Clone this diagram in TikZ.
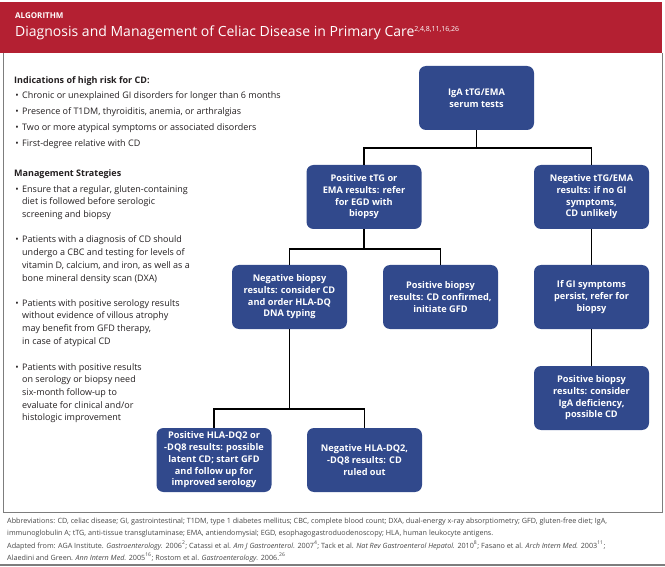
\documentclass[tikz,border=0pt]{standalone}
\usepackage{fontspec}
\setmainfont{Open Sans}
\definecolor{algred}{RGB}{180,32,50}
\definecolor{algblue}{RGB}{49,73,140}
\definecolor{framegray}{RGB}{125,125,125}
\definecolor{bodyink}{RGB}{35,31,32}
\definecolor{noteink}{RGB}{70,70,70}
\begin{document}
\begin{tikzpicture}[x=1pt,y=-1pt,
    stepbox/.style={fill=algblue, rounded corners=7pt, text=white, align=center,
      font=\bfseries\fontsize{9.2}{11.7}\selectfont,
      minimum width=115pt, minimum height=64pt, inner sep=1pt},
    link/.style={line width=1.6pt},
    bodytext/.style={anchor=base west, inner sep=0pt, align=left, text=bodyink,
      font=\fontsize{9}{12.7}\selectfont},
    headtext/.style={bodytext, font=\bfseries\fontsize{9}{12.7}\selectfont},
    notetext/.style={anchor=base west, inner sep=0pt, text=noteink,
      font=\fontsize{7.2}{8.5}\selectfont}
  ]
  \useasboundingbox (0,0) rectangle (665,567);
  % header and frame
  \fill[algred] (0,2) rectangle (662,53);
  \draw[framegray, line width=1pt] (3,53) |- (662,512) -- (662,53);
  \draw[framegray, line width=1.2pt] (0,565) -- (665,565);
  \node[anchor=base west, inner sep=0pt, text=white, font=\bfseries\fontsize{8}{9}\selectfont] (kicker) at (15,19) {ALGORITHM};
  \node[anchor=base west, inner sep=0pt, text=white, font=\fontsize{14}{16}\selectfont] (title) at (15,37)
    {Diagnosis and Management of Celiac Disease in Primary Care{\fontsize{7}{8}\selectfont\raisebox{5.5pt}{2,4,8,11,16,26}}};

  % left column (base = last line of each item)
  \node[headtext] (riskhead) at (14,84) {Indications of high risk for CD:};
  \foreach \txt [count=\i] in {{Chronic or unexplained GI disorders for longer than 6 months},
      {Presence of T1DM, thyroiditis, anemia, or arthralgias},
      {Two or more atypical symptoms or associated disorders},
      {First-degree relative with CD}}
    \node[bodytext] (risk\i) at (22,{83+16*\i}) {\llap{\textbullet\hspace{3.5pt}}\txt};
  \node[headtext] (mgmthead) at (14,177) {Management Strategies};
  \node[bodytext] (mgmt1) at (22,217.4) {\llap{\textbullet\hspace{3.5pt}}Ensure that a regular, gluten-containing\\diet is followed before serologic\\screening and biopsy};
  \node[bodytext] (mgmt2) at (22,281.1) {\llap{\textbullet\hspace{3.5pt}}Patients with a diagnosis of CD should\\undergo a CBC and testing for levels of\\vitamin D, calcium, and iron, as well as a\\bone mineral density scan (DXA)};
  \node[bodytext] (mgmt3) at (22,344.1) {\llap{\textbullet\hspace{3.5pt}}Patients with positive serology results\\without evidence of villous atrophy\\may benefit from GFD therapy,\\in case of atypical CD};
  \node[bodytext] (mgmt4) at (22,420.8) {\llap{\textbullet\hspace{3.5pt}}Patients with positive results\\on serology or biopsy need\\six-month follow-up to\\evaluate for clinical and/or\\histologic improvement};

  % flow chart
  \node[stepbox] (serum) at (476.5,98) {IgA tTG/EMA\\serum tests};
  \node[stepbox] (postg) at (364,197) {Positive tTG or\\EMA results: refer\\for EGD with\\biopsy};
  \node[stepbox] (negtg) at (591.5,197) {Negative tTG/EMA\\results: if no GI\\symptoms,\\CD unlikely};
  \node[stepbox] (negbx) at (289.5,297) {Negative biopsy\\results: consider CD\\and order HLA-DQ\\DNA typing};
  \node[stepbox] (posbx) at (440.5,297) {Positive biopsy\\results: CD confirmed,\\initiate GFD};
  \node[stepbox] (gisym) at (591.5,297) {If GI symptoms\\persist, refer for\\biopsy};
  \node[stepbox] (igadef) at (591.5,398) {Positive biopsy\\results: consider\\IgA deficiency,\\possible CD};
  \node[stepbox] (poshla) at (214,460) {Positive HLA-DQ2 or\\-DQ8 results: possible\\latent CD; start GFD\\and follow up for\\improved serology};
  \node[stepbox] (neghla) at (364.5,460) {Negative HLA-DQ2,\\-DQ8 results: CD\\ruled out};

  \draw[link] (serum.south) -- ++(0,18) -| (postg.north);
  \draw[link] (serum.south) -- ++(0,18) -| (negtg.north);
  \draw[link] (postg.south) -- ++(0,20) -| (negbx.north);
  \draw[link] (postg.south) -- ++(0,20) -| (posbx.north);
  \draw[link] (negtg.south) -- (gisym.north);
  \draw[link] (gisym.south) -- (igadef.north);
  \draw[link] (negbx.south) -- ++(0,80) -| (poshla.north);
  \draw[link] (negbx.south) -- ++(0,80) -| (neghla.north);

  % footnotes
  \node[notetext] (abbr1) at (7,523) {Abbreviations: CD, celiac disease; GI, gastrointestinal; T1DM, type 1 diabetes mellitus; CBC, complete blood count; DXA, dual-energy x-ray absorptiometry; GFD, gluten-free diet; IgA,};
  \node[notetext] (abbr2) at (7,535) {immunoglobulin A; tTG, anti-tissue transglutaminase; EMA, antiendomysial; EGD, esophagogastroduodenoscopy; HLA, human leukocyte antigens.};
  \node[notetext] (src1) at (7,548) {Adapted from: AGA Institute. \textit{Gastroenterology.} 2006\textsuperscript{2}; Catassi et al. \textit{Am J Gastroenterol.} 2007\textsuperscript{4}; Tack et al. \textit{Nat Rev Gastroenterol Hepatol.} 2010\textsuperscript{8}; Fasano et al. \textit{Arch Intern Med.} 2003\textsuperscript{11};};
  \node[notetext] (src2) at (7,560) {Alaedini and Green. \textit{Ann Intern Med.} 2005\textsuperscript{16}; Rostom et al. \textit{Gastroenterology.} 2006.\textsuperscript{26}};
\end{tikzpicture}
\end{document}
